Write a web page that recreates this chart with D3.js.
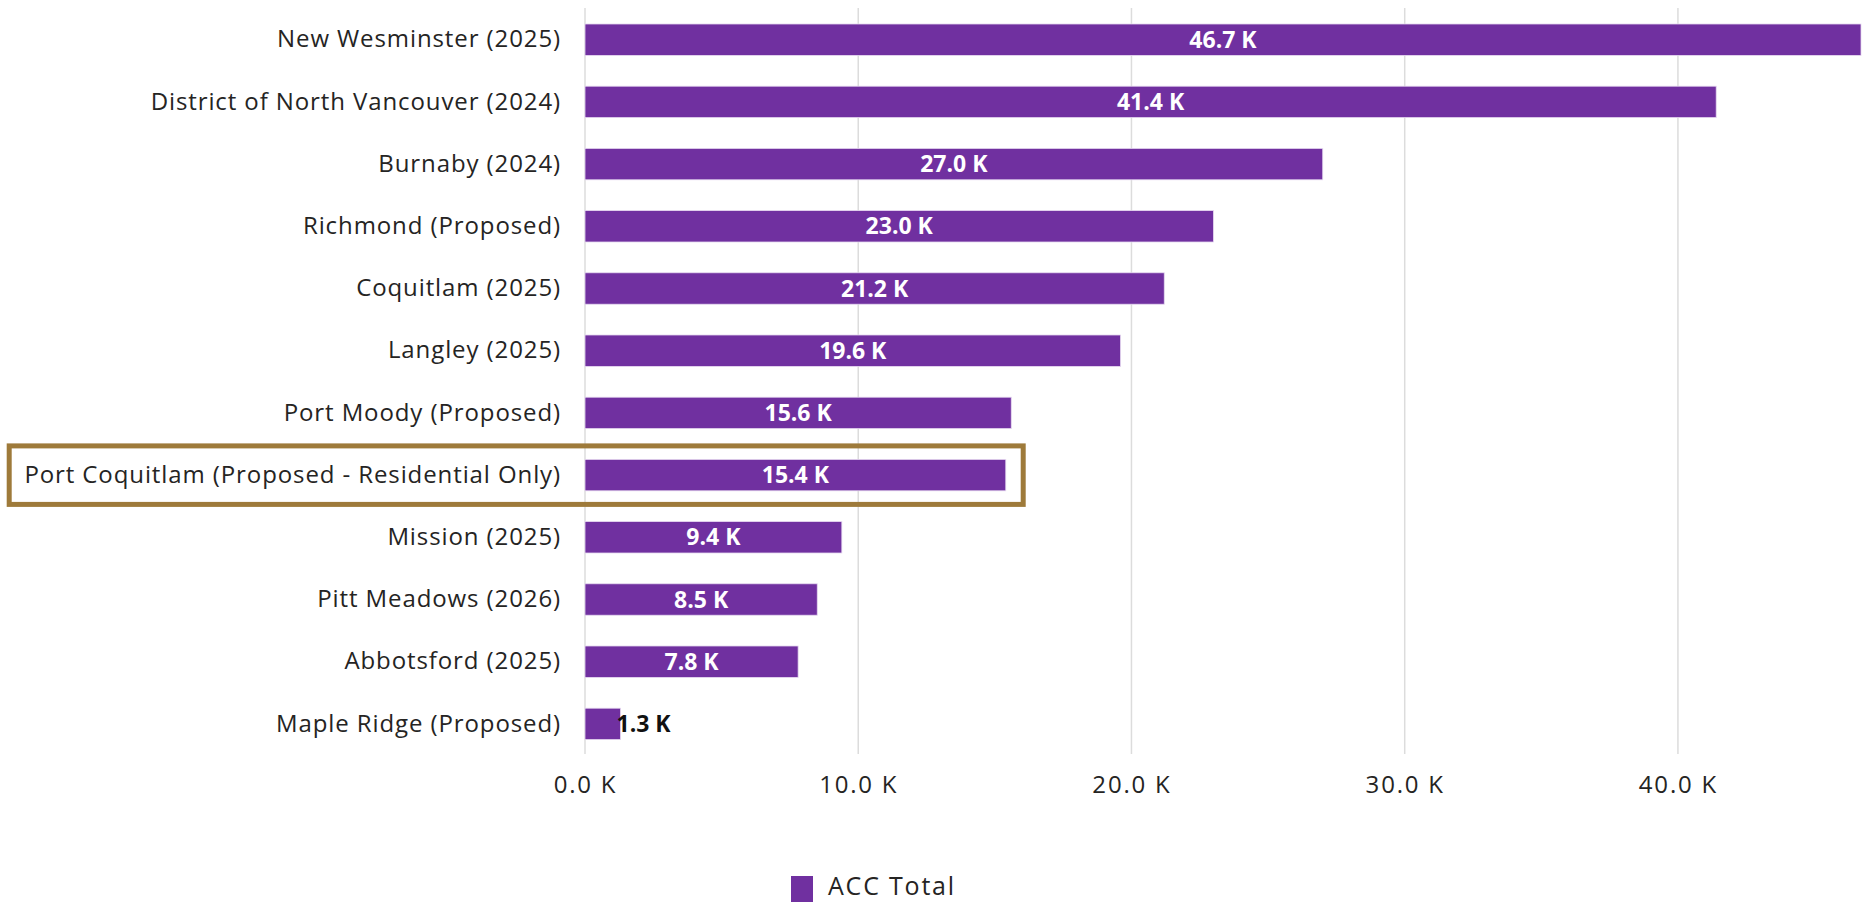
<!DOCTYPE html>
<html>
<head>
<meta charset="utf-8">
<script src="https://cdn.jsdelivr.net/npm/d3@7"></script>
<style>
  html, body { margin: 0; padding: 0; background: #fff; }
  svg { display: block; }
  text { font-family: "Open Sans", Lato, sans-serif; }
</style>
</head>
<body>
<svg id="chart" width="1872" height="902"></svg>
<script>
// Development cost charges (ACC) per municipality, in thousands of dollars
const categories = [
  "New Wesminster (2025)",
  "District of North Vancouver (2024)",
  "Burnaby (2024)",
  "Richmond (Proposed)",
  "Coquitlam (2025)",
  "Langley (2025)",
  "Port Moody (Proposed)",
  "Port Coquitlam (Proposed - Residential Only)",
  "Mission (2025)",
  "Pitt Meadows (2026)",
  "Abbotsford (2025)",
  "Maple Ridge (Proposed)"
];
const accTotal = [46.7, 41.4, 27.0, 23.0, 21.2, 19.6, 15.6, 15.4, 9.4, 8.5, 7.8, 1.3];
const xTicks = [0, 10, 20, 30, 40];
const seriesName = "ACC Total";
const highlighted = "Port Coquitlam (Proposed - Residential Only)";

const purple = "#7030A0";
const gold = "#9E7A3A";
const labelFont = "'Open Sans', sans-serif";
const valueFont = "Lato, sans-serif";

const svg = d3.select("#chart");

const x = d3.scaleLinear().domain([0, 46.7]).range([585, 1861]);
const y = d3.scaleBand()
  .domain(categories)
  .range([8.6, 755])
  .paddingInner(0.495)
  .paddingOuter(0.2475);

const fmt = v => d3.format(".1f")(v) + " K";

// vertical gridlines
svg.append("g")
  .selectAll("line")
  .data(xTicks)
  .join("line")
  .attr("x1", d => x(d)).attr("x2", d => x(d))
  .attr("y1", 8).attr("y2", 754)
  .attr("stroke", "#dcdcdc")
  .attr("stroke-width", 1.5);

// x axis labels
const xAxis = d3.axisBottom(x).tickValues(xTicks).tickFormat(fmt).tickSize(0).tickPadding(0);
const gx = svg.append("g").attr("transform", "translate(0,776)").call(xAxis);
gx.select(".domain").remove();
gx.selectAll("text")
  .attr("font-size", 24)
  .attr("letter-spacing", "1.8px")
  .attr("fill", "#252423")
  .attr("font-family", labelFont);

// category axis labels
const yAxis = d3.axisLeft(y).tickSize(0).tickPadding(24);
const gy = svg.append("g").attr("transform", `translate(${x(0)},0)`).call(yAxis);
gy.select(".domain").remove();
gy.selectAll("text")
  .attr("font-size", 24)
  .attr("letter-spacing", "0.9px")
  .attr("fill", "#252423")
  .attr("font-family", labelFont);

// bars
svg.append("g")
  .selectAll("rect")
  .data(categories)
  .join("rect")
  .attr("x", x(0))
  .attr("y", d => y(d))
  .attr("width", (d, i) => x(accTotal[i]) - x(0))
  .attr("height", y.bandwidth())
  .attr("fill", purple)
  .attr("stroke", "#e6d9f0")
  .attr("stroke-width", 0.8);

// value labels: centred inside when they fit, just past the end otherwise
svg.append("g")
  .selectAll("text")
  .data(categories)
  .join("text")
  .each(function (d, i) {
    const v = accTotal[i];
    const w = x(v) - x(0);
    const inside = w > 80;
    d3.select(this)
      .attr("x", inside ? x(0) + w / 2 : x(v) - 4)
      .attr("y", y(d) + y.bandwidth() / 2)
      .attr("dy", "0.35em")
      .attr("text-anchor", inside ? "middle" : "start")
      .attr("fill", inside ? "#ffffff" : "#111111")
      .attr("font-family", valueFont)
      .attr("font-size", 23)
      .attr("font-weight", 700)
      .text(fmt(v));
  });

// highlight frame around one row
const hy = y(highlighted) + y.bandwidth() / 2;
svg.append("rect")
  .attr("x", 9.2)
  .attr("y", hy - 29.2)
  .attr("width", 1014)
  .attr("height", 58.5)
  .attr("fill", "none")
  .attr("stroke", gold)
  .attr("stroke-width", 5);

// legend
const lg = svg.append("g").attr("transform", "translate(791,876)");
lg.append("rect").attr("width", 22).attr("height", 26).attr("fill", purple);
lg.append("text")
  .attr("x", 37).attr("y", 19)
  .attr("font-size", 25)
  .attr("letter-spacing", "1.8px")
  .attr("fill", "#252423")
  .attr("font-family", labelFont)
  .text(seriesName);
</script>
</body>
</html>
